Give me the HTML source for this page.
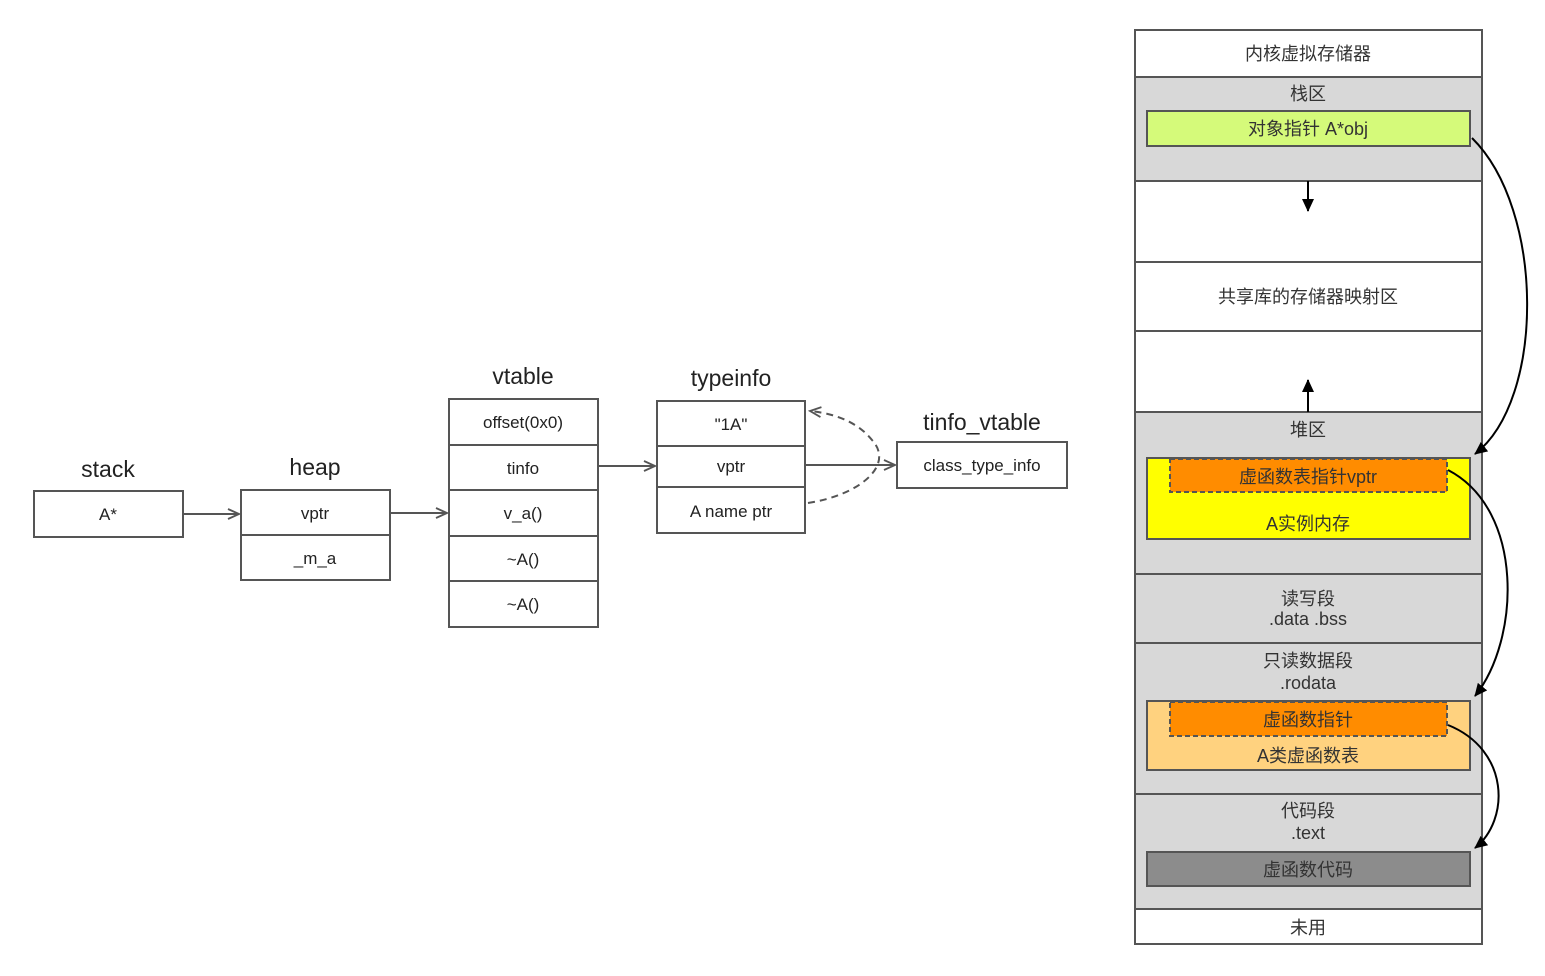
<!DOCTYPE html>
<html><head><meta charset="utf-8"><style>
html,body{margin:0;padding:0;background:#fff;}
svg text{font-family:"Liberation Sans","Noto Sans CJK SC",sans-serif;}
</style></head><body>
<svg width="1545" height="971" viewBox="0 0 1545 971" xmlns="http://www.w3.org/2000/svg">
<defs>
<marker id="op" markerWidth="14" markerHeight="12" refX="12" refY="6" orient="auto" markerUnits="userSpaceOnUse">
<path d="M1,1 L12,6 L1,11" fill="none" stroke="#555" stroke-width="1.8"/></marker>
<marker id="bk" markerWidth="14" markerHeight="14" refX="12" refY="7" orient="auto" markerUnits="userSpaceOnUse">
<path d="M0,1 L13,7 L0,13 Z" fill="#000"/></marker>
</defs>
<g fill="#fff" stroke="#555" stroke-width="2">
<rect x="34" y="491" width="149" height="46"/>
<rect x="241" y="490" width="149" height="90"/><line x1="241" y1="535" x2="390" y2="535"/>
<rect x="449" y="399" width="149" height="228"/>
<line x1="449" y1="445" x2="598" y2="445"/><line x1="449" y1="490" x2="598" y2="490"/>
<line x1="449" y1="536" x2="598" y2="536"/><line x1="449" y1="581" x2="598" y2="581"/>
<rect x="657" y="401" width="148" height="132"/>
<line x1="657" y1="446" x2="805" y2="446"/><line x1="657" y1="487" x2="805" y2="487"/>
<rect x="897" y="442" width="170" height="46"/>
</g>
<g font-size="23" fill="#222" text-anchor="middle">
<text x="108" y="477">stack</text><text x="315" y="475">heap</text>
<text x="523" y="384">vtable</text><text x="731" y="386">typeinfo</text>
<text x="982" y="430">tinfo_vtable</text>
</g>
<g font-size="17" fill="#222" text-anchor="middle">
<text x="108" y="520">A*</text><text x="315" y="519">vptr</text><text x="315" y="564">_m_a</text>
<text x="523" y="428">offset(0x0)</text><text x="523" y="474">tinfo</text><text x="523" y="519">v_a()</text>
<text x="523" y="565">~A()</text><text x="523" y="610">~A()</text>
<text x="731" y="430">"1A"</text><text x="731" y="472">vptr</text><text x="731" y="517">A name ptr</text>
<text x="982" y="471">class_type_info</text>
</g>
<g stroke="#555" stroke-width="2" fill="none">
<line x1="183" y1="514" x2="239" y2="514" marker-end="url(#op)"/>
<line x1="390" y1="513" x2="447" y2="513" marker-end="url(#op)"/>
<line x1="598" y1="466" x2="655" y2="466" marker-end="url(#op)"/>
<line x1="805" y1="465" x2="895" y2="465" marker-end="url(#op)"/>
<path d="M808,503 C860,495 895,465 872,440 C860,425 840,414 810,411" stroke-dasharray="7,5" marker-end="url(#op)"/>
</g>
<!-- right panel -->
<g stroke="#555" stroke-width="2">
<rect x="1135" y="30" width="347" height="914" fill="#fff"/>
<rect x="1135" y="77" width="347" height="104" fill="#d8d8d8"/>
<rect x="1135" y="181" width="347" height="81" fill="#fff"/>
<rect x="1135" y="262" width="347" height="69" fill="#fff"/>
<rect x="1135" y="331" width="347" height="81" fill="#fff"/>
<rect x="1135" y="412" width="347" height="162" fill="#d8d8d8"/>
<rect x="1135" y="574" width="347" height="69" fill="#d8d8d8"/>
<rect x="1135" y="643" width="347" height="151" fill="#d8d8d8"/>
<rect x="1135" y="794" width="347" height="115" fill="#d8d8d8"/>
<rect x="1135" y="909" width="347" height="35" fill="#fff"/>
<rect x="1147" y="111" width="323" height="35" fill="#d5fa7a"/>
<rect x="1147" y="458" width="323" height="81" fill="#ffff00"/>
<rect x="1170" y="459" width="277" height="33" fill="#ff8c00" stroke-dasharray="5,3"/>
<rect x="1147" y="701" width="323" height="69" fill="#ffd27f"/>
<rect x="1170" y="702" width="277" height="34" fill="#ff8c00" stroke-dasharray="5,3"/>
<rect x="1147" y="852" width="323" height="34" fill="#8c8c8c"/>
</g>
<g font-size="18" fill="#333" text-anchor="middle">
<text x="1308" y="60">内核虚拟存储器</text>
<text x="1308" y="100">栈区</text>
<text x="1308" y="135">对象指针 A*obj</text>
<text x="1308" y="303">共享库的存储器映射区</text>
<text x="1308" y="436">堆区</text>
<text x="1308" y="483">虚函数表指针vptr</text>
<text x="1308" y="530">A实例内存</text>
<text x="1308" y="605">读写段</text><text x="1308" y="625">.data .bss</text>
<text x="1308" y="667">只读数据段</text><text x="1308" y="689">.rodata</text>
<text x="1308" y="726">虚函数指针</text>
<text x="1308" y="762">A类虚函数表</text>
<text x="1308" y="817">代码段</text><text x="1308" y="839">.text</text>
<text x="1308" y="876">虚函数代码</text>
<text x="1308" y="934">未用</text>
</g>
<g stroke="#000" stroke-width="2" fill="none">
<line x1="1308" y1="181" x2="1308" y2="211" marker-end="url(#bk)"/>
<line x1="1308" y1="412" x2="1308" y2="380" marker-end="url(#bk)"/>
<path d="M1472,138 C1545,210 1545,400 1475,454" marker-end="url(#bk)"/>
<path d="M1448,470 C1525,510 1520,640 1475,696" marker-end="url(#bk)"/>
<path d="M1448,725 C1510,750 1510,820 1475,848" marker-end="url(#bk)"/>
</g>
</svg>
</body></html>
